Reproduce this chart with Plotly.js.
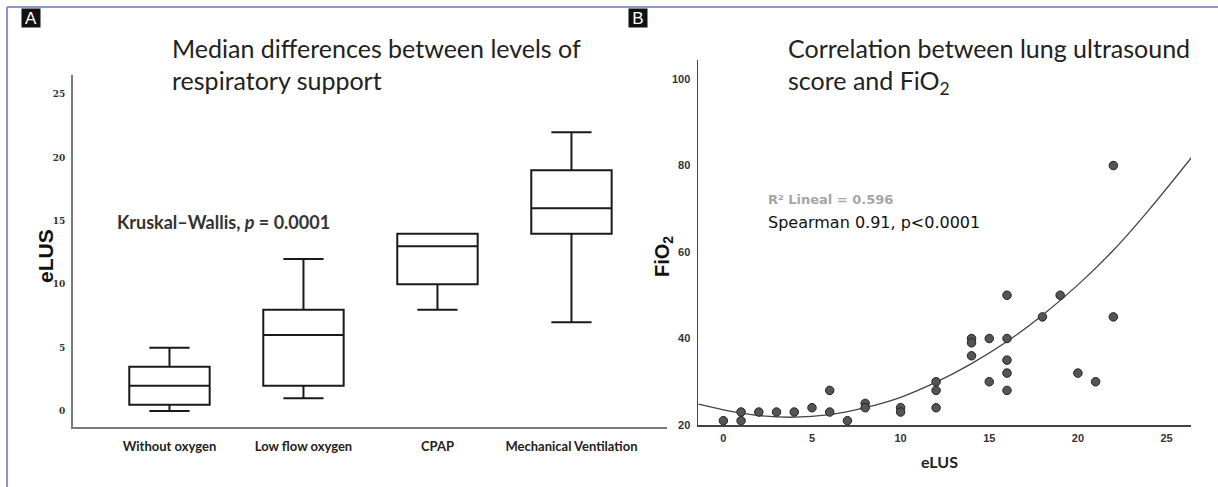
<!DOCTYPE html>
<html>
<head>
<meta charset="utf-8">
<script src="https://cdn.plot.ly/plotly-3.0.1.min.js"></script>
<style>
  html, body { margin: 0; padding: 0; background: #ffffff; }
  #chart { width: 1218px; height: 487px; }
</style>
</head>
<body>
<div id="chart"></div>
<script>
// ---------- Panel A data: box plot summary of eLUS by respiratory support ----------
const categories = ['Without oxygen', 'Low flow oxygen', 'CPAP', 'Mechanical Ventilation'];
const lowerFence = [0, 1, 8, 7];
const q1 = [0.5, 2, 10, 14];
const median = [2, 6, 13, 16];
const q3 = [3.5, 8, 14, 19];
const upperFence = [5, 12, 14, 22];
const eLusTicks = [0, 5, 10, 15, 20, 25];

// ---------- Panel B data: eLUS vs FiO2 scatter ----------
const elusX = [0, 1, 1, 2, 3, 4, 5, 6, 6, 7, 8, 8, 10, 10, 12, 12, 12, 14, 14, 14, 15, 15, 16, 16, 16, 16, 16, 18, 19, 20, 21, 22, 22];
const fio2Y = [21, 23, 21, 23, 23, 23, 24, 28, 23, 21, 25, 24, 24, 23, 30, 28, 24, 40, 39, 36, 40, 30, 50, 40, 35, 32, 28, 45, 50, 32, 30, 45, 80];
// fitted quadratic curve
const fitX = [-1.4, 0, 2, 4, 6, 8, 10, 12, 14, 16, 18, 20, 22, 24, 26.4];
const fitY = [24.8, 23.5, 22.2, 21.8, 22.4, 24.0, 26.4, 29.9, 34.2, 39.3, 45.4, 52.4, 60.4, 69.7, 81.8];
const bXTicks = [0, 5, 10, 15, 20, 25];
const bYTicks = [20, 40, 60, 80, 100];

const W = 1218, H = 487;
const px = v => v / W;
const py = v => 1 - v / H;

const traces = [
  {
    type: 'box',
    x: categories,
    q1: q1,
    median: median,
    q3: q3,
    lowerfence: lowerFence,
    upperfence: upperFence,
    xaxis: 'x', yaxis: 'y',
    width: 0.6,
    whiskerwidth: 0.5,
    fillcolor: '#ffffff',
    line: { color: '#1a1a1a', width: 2 },
    boxpoints: false,
    hoverinfo: 'skip',
    showlegend: false
  },
  {
    type: 'scatter',
    mode: 'lines',
    x: fitX,
    y: fitY,
    xaxis: 'x2', yaxis: 'y2',
    line: { color: '#444444', width: 1.3, shape: 'spline', smoothing: 1 },
    hoverinfo: 'skip',
    showlegend: false
  },
  {
    type: 'scatter',
    mode: 'markers',
    x: elusX,
    y: fio2Y,
    xaxis: 'x2', yaxis: 'y2',
    cliponaxis: false,
    marker: { size: 8.5, color: '#555555', line: { color: '#222222', width: 1 } },
    showlegend: false
  }
];

const tickFontA = { family: 'DejaVu Serif', size: 9, color: '#333333', weight: 'bold' };
const tickFontB = { family: 'Liberation Sans', size: 11, color: '#333333', weight: 'bold' };
const titleFont = { family: 'Lato', size: 25, color: '#222222' };

const layout = {
  width: W, height: H,
  margin: { l: 0, r: 0, t: 0, b: 0 },
  paper_bgcolor: '#ffffff',
  plot_bgcolor: 'rgba(0,0,0,0)',
  showlegend: false,
  xaxis: {
    domain: [px(73), px(667)],
    range: [-0.72, 3.713],
    type: 'category',
    showgrid: false, zeroline: false,
    showline: true, linecolor: '#7a7a7a', linewidth: 2,
    ticks: '',
    ticklabelstandoff: 6,
    tickfont: { family: 'Lato', size: 13, color: '#222222', weight: 'bold' },
    anchor: 'y'
  },
  yaxis: {
    domain: [py(427), py(75)],
    range: [-1.26, 26.52],
    tickvals: eLusTicks,
    showgrid: false, zeroline: false,
    showline: true, linecolor: '#7a7a7a', linewidth: 2,
    ticks: '',
    ticklabelstandoff: 4,
    tickfont: tickFontA,
    anchor: 'x'
  },
  xaxis2: {
    domain: [px(698), px(1191)],
    range: [-1.43, 26.38],
    tickvals: bXTicks,
    showgrid: false, zeroline: false,
    showline: true, linecolor: '#444444', linewidth: 1.5,
    ticks: '',
    ticklabelstandoff: 2,
    tickfont: tickFontB,
    anchor: 'y2'
  },
  yaxis2: {
    domain: [py(425), py(60)],
    range: [20, 104.4],
    tickvals: bYTicks,
    showgrid: false, zeroline: false,
    showline: true, linecolor: '#444444', linewidth: 1.5,
    ticks: '',
    ticklabelstandoff: 4,
    tickfont: tickFontB,
    anchor: 'x2'
  },
  shapes: [
    { type: 'line', xref: 'paper', yref: 'paper', x0: px(7), x1: 1, y0: py(7), y1: py(7),
      line: { color: '#8c96c8', width: 2 } },
    { type: 'line', xref: 'paper', yref: 'paper', x0: px(7), x1: px(7), y0: py(7), y1: 0,
      line: { color: '#8c96c8', width: 2 } }
  ],
  annotations: [
    // panel letters
    { text: 'A', xref: 'paper', yref: 'paper', x: px(31), y: py(18), showarrow: false,
      xanchor: 'center', yanchor: 'middle', bgcolor: '#111111', borderpad: 0,
      width: 18, height: 18, align: 'center', valign: 'middle',
      font: { family: 'Liberation Sans', size: 17, color: '#ffffff' } },
    { text: 'B', xref: 'paper', yref: 'paper', x: px(638), y: py(18), showarrow: false,
      xanchor: 'center', yanchor: 'middle', bgcolor: '#111111', borderpad: 0,
      width: 18, height: 18, align: 'center', valign: 'middle',
      font: { family: 'Liberation Sans', size: 17, color: '#ffffff' } },
    // panel A title
    { text: 'Median differences between levels of', xref: 'paper', yref: 'paper',
      x: px(170), y: py(48), xanchor: 'left', yanchor: 'middle', showarrow: false,
      font: titleFont },
    { text: 'respiratory support', xref: 'paper', yref: 'paper',
      x: px(170), y: py(80), xanchor: 'left', yanchor: 'middle', showarrow: false,
      font: titleFont },
    // panel B title
    { text: 'Correlation between lung ultrasound', xref: 'paper', yref: 'paper',
      x: px(786), y: py(48), xanchor: 'left', yanchor: 'middle', showarrow: false,
      font: titleFont },
    { text: 'score and FiO<sub>2</sub>', xref: 'paper', yref: 'paper',
      x: px(786), y: py(82), xanchor: 'left', yanchor: 'middle', showarrow: false,
      font: titleFont },
    // panel A y title
    { text: 'eLUS', xref: 'paper', yref: 'paper', x: px(45), y: py(256), textangle: -90,
      xanchor: 'center', yanchor: 'middle', showarrow: false,
      font: { family: 'Liberation Sans', size: 21, color: '#111111', weight: 'bold' } },
    // Kruskal-Wallis
    { text: 'Kruskal–Wallis, <i>p</i> = 0.0001', xref: 'paper', yref: 'paper',
      x: px(115), y: py(222), xanchor: 'left', yanchor: 'middle', showarrow: false,
      font: { family: 'Lato', size: 18, color: '#333333', weight: 'bold' } },
    // panel B axis titles
    { text: 'FiO<sub>2</sub>', xref: 'paper', yref: 'paper', x: px(663), y: py(256), textangle: -90,
      xanchor: 'center', yanchor: 'middle', showarrow: false,
      font: { family: 'Liberation Sans', size: 20, color: '#111111', weight: 'bold' } },
    { text: 'eLUS', xref: 'paper', yref: 'paper', x: px(940), y: py(461),
      xanchor: 'center', yanchor: 'middle', showarrow: false,
      font: { family: 'Lato', size: 16, color: '#222222', weight: 'bold' } },
    // statistics text
    { text: 'R² Lineal = 0.596', xref: 'paper', yref: 'paper', x: px(766), y: py(199),
      xanchor: 'left', yanchor: 'middle', showarrow: false,
      font: { family: 'DejaVu Sans', size: 13, color: '#a6a6a6', weight: 'bold' } },
    { text: 'Spearman 0.91, p<0.0001', xref: 'paper', yref: 'paper', x: px(766), y: py(222),
      xanchor: 'left', yanchor: 'middle', showarrow: false,
      font: { family: 'DejaVu Sans', size: 16, color: '#111111' } }
  ]
};

Plotly.newPlot('chart', traces, layout, { staticPlot: true, displayModeBar: false });
</script>
</body>
</html>
